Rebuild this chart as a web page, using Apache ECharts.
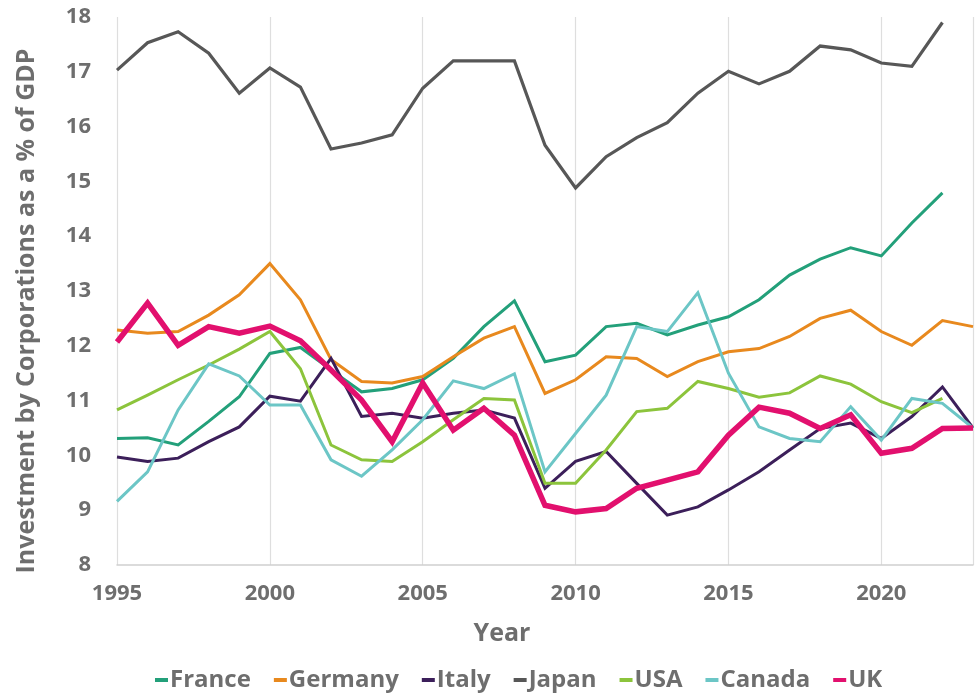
<!DOCTYPE html>
<html>
<head>
<meta charset="utf-8">
<script src="https://cdn.jsdelivr.net/npm/echarts@6/dist/echarts.min.js"></script>
<style>
  html, body { margin: 0; padding: 0; background: #ffffff; }
  #chart { width: 976px; height: 697px; }
</style>
</head>
<body>
<div id="chart"></div>
<script>
// Corporate investment as a share of GDP, 1995 onwards
const years = [1995, 1996, 1997, 1998, 1999, 2000, 2001, 2002, 2003, 2004, 2005, 2006, 2007, 2008, 2009,
               2010, 2011, 2012, 2013, 2014, 2015, 2016, 2017, 2018, 2019, 2020, 2021, 2022, 2023];

const france  = [10.31, 10.32, 10.19, 10.62, 11.07, 11.86, 11.97, 11.56, 11.16, 11.22, 11.38, 11.77, 12.35, 12.82, 11.71,
                 11.83, 12.35, 12.41, 12.20, 12.38, 12.53, 12.84, 13.29, 13.58, 13.79, 13.64, 14.24, 14.79, null];
const germany = [12.29, 12.23, 12.26, 12.56, 12.93, 13.50, 12.84, 11.75, 11.35, 11.32, 11.44, 11.80, 12.14, 12.35, 11.13,
                 11.38, 11.80, 11.77, 11.44, 11.71, 11.89, 11.95, 12.17, 12.50, 12.65, 12.26, 12.01, 12.46, 12.35];
const italy   = [9.97, 9.89, 9.95, 10.25, 10.52, 11.08, 10.99, 11.77, 10.71, 10.77, 10.68, 10.77, 10.83, 10.68, 9.40,
                 9.89, 10.07, 9.49, 8.91, 9.06, 9.37, 9.70, 10.10, 10.49, 10.59, 10.31, 10.71, 11.25, 10.50];
const japan   = [17.03, 17.53, 17.73, 17.34, 16.61, 17.07, 16.72, 15.59, 15.70, 15.85, 16.70, 17.20, 17.20, 17.20, 15.66,
                 14.88, 15.45, 15.80, 16.07, 16.61, 17.01, 16.78, 17.01, 17.47, 17.40, 17.16, 17.10, 17.90, null];
const usa     = [10.83, 11.10, 11.38, 11.65, 11.94, 12.26, 11.58, 10.19, 9.92, 9.89, 10.25, 10.65, 11.04, 11.01, 9.49,
                 9.49, 10.10, 10.80, 10.86, 11.35, 11.22, 11.06, 11.14, 11.45, 11.30, 10.98, 10.78, 11.04, null];
const canada  = [9.16, 9.70, 10.83, 11.67, 11.45, 10.92, 10.92, 9.92, 9.62, 10.10, 10.65, 11.36, 11.22, 11.49, 9.70,
                 10.40, 11.10, 12.35, 12.26, 12.97, 11.50, 10.52, 10.31, 10.25, 10.89, 10.28, 11.04, 10.95, 10.50];
const uk      = [12.07, 12.78, 12.01, 12.35, 12.23, 12.36, 12.09, 11.56, 11.01, 10.25, 11.32, 10.46, 10.86, 10.37, 9.09,
                 8.97, 9.03, 9.40, 9.55, 9.70, 10.37, 10.88, 10.77, 10.49, 10.74, 10.04, 10.13, 10.49, 10.50];

const seriesDefs = [
  { name: 'France',  data: france,  color: '#23a07a', width: 3 },
  { name: 'Germany', data: germany, color: '#e8891e', width: 3 },
  { name: 'Italy',   data: italy,   color: '#3c1f5a', width: 3 },
  { name: 'Japan',   data: japan,   color: '#575757', width: 3.2 },
  { name: 'USA',     data: usa,     color: '#8cc43c', width: 3 },
  { name: 'Canada',  data: canada,  color: '#6cc6c6', width: 3 },
  { name: 'UK',      data: uk,      color: '#e2106e', width: 5.5 }
];

const textGray = '#6e6e6e';
const fontFam = '"Open Sans", "Noto Sans", sans-serif';

const chart = echarts.init(document.getElementById('chart'), null, { renderer: 'canvas' });

chart.setOption({
  backgroundColor: '#ffffff',
  animation: false,
  grid: { left: 117, right: -7, top: 17, bottom: 132, containLabel: false },
  legend: {
    left: 150,
    top: 663,
    itemWidth: 13,
    itemHeight: 4,
    itemGap: 23,
    icon: 'rect',
    textStyle: { color: textGray, fontSize: 24, fontWeight: 'bold', fontFamily: fontFam, padding: [0, 0, 0, -3] },
    data: seriesDefs.map(s => s.name)
  },
  xAxis: {
    type: 'value',
    min: 1995,
    max: 2023,
    interval: 5,
    name: 'Year',
    nameLocation: 'middle',
    nameGap: 56,
    nameTextStyle: { color: textGray, fontSize: 25, fontWeight: 'bold', fontFamily: fontFam, padding: [0, 86, 0, 0] },
    axisLine: { show: true, lineStyle: { color: '#cfcfcf', width: 1.5 } },
    axisTick: { show: false },
    splitLine: { show: true, lineStyle: { color: '#dedede', width: 1.2 } },
    axisLabel: {
      color: textGray, fontSize: 22, fontWeight: 'bold', fontFamily: fontFam, margin: 18,
      formatter: v => (v % 5 === 0 ? String(v) : '')
    }
  },
  yAxis: {
    type: 'value',
    min: 8,
    max: 18,
    interval: 1,
    axisLine: { show: false },
    axisTick: { show: false },
    splitLine: { show: false },
    axisLabel: { color: textGray, fontSize: 22, fontWeight: 'bold', fontFamily: fontFam, margin: 26 }
  },
  graphic: [{
    type: 'text',
    x: 27,
    y: 311,
    rotation: Math.PI / 2,
    style: {
      text: 'Investment by Corporations as a % of GDP',
      fill: textGray,
      font: 'bold 25px ' + fontFam,
      align: 'center',
      verticalAlign: 'middle'
    }
  }],
  series: seriesDefs.map(s => ({
    name: s.name,
    type: 'line',
    data: years.map((y, i) => [y, s.data[i]]),
    showSymbol: false,
    symbol: 'none',
    clip: true,
    connectNulls: false,
    color: s.color,
    lineStyle: { color: s.color, width: s.width, join: 'miter' }
  }))
});
</script>
</body>
</html>
